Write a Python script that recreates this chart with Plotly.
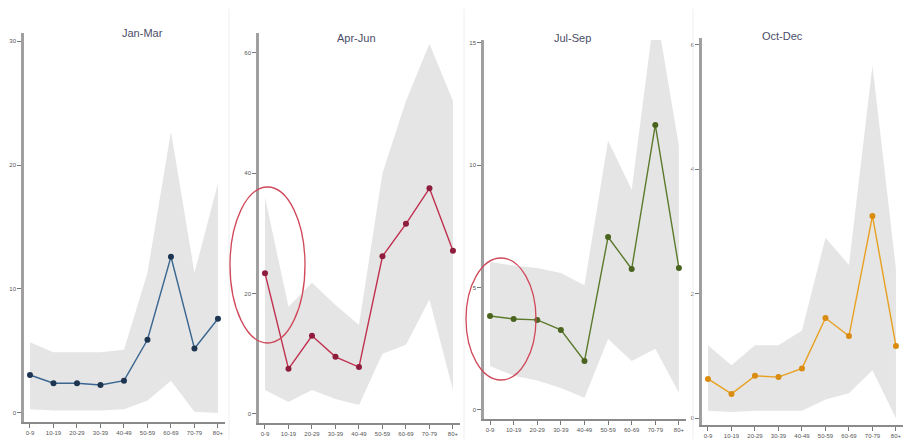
import plotly.graph_objects as go

age_groups = ["0-9", "10-19", "20-29", "30-39", "40-49", "50-59", "60-69", "70-79", "80+"]
quarters = ["Jan-Mar", "Apr-Jun", "Jul-Sep", "Oct-Dec"]

jan_mar = [3.06, 2.4, 2.4, 2.26, 2.6, 5.9, 12.6, 5.2, 7.6]
jan_mar_upper = [5.7, 4.9, 4.9, 4.9, 5.1, 11.3, 22.7, 11.3, 18.5]
jan_mar_lower = [0.3, 0.2, 0.2, 0.2, 0.3, 1.0, 2.6, 0.1, 0.0]

apr_jun = [23.4, 7.5, 13.0, 9.5, 7.8, 26.2, 31.6, 37.5, 27.1]
apr_jun_upper = [36.0, 17.8, 21.8, 18.1, 14.8, 40.0, 52.0, 61.5, 52.0]
apr_jun_lower = [4.0, 2.0, 4.0, 2.5, 1.5, 10.0, 11.5, 19.0, 4.0]

jul_sep = [3.84, 3.72, 3.68, 3.27, 2.0, 7.07, 5.76, 11.65, 5.8]
jul_sep_upper = [6.05, 5.9, 5.8, 5.6, 5.1, 11.0, 9.0, 16.5, 10.8]
jul_sep_lower = [1.8, 1.4, 1.2, 0.9, 0.5, 2.9, 2.0, 2.5, 0.7]

oct_dec = [0.63, 0.39, 0.68, 0.66, 0.80, 1.61, 1.32, 3.25, 1.16]
oct_dec_upper = [1.17, 0.85, 1.17, 1.17, 1.41, 2.9, 2.46, 5.67, 2.4]
oct_dec_lower = [0.12, 0.1, 0.12, 0.12, 0.12, 0.3, 0.4, 0.77, 0.0]

y_ticks = [[0, 10, 20, 30], [0, 20, 40, 60], [0, 5, 10, 15], [0, 2, 4, 6]]

series = [jan_mar, apr_jun, jul_sep, oct_dec]
uppers = [jan_mar_upper, apr_jun_upper, jul_sep_upper, oct_dec_upper]
lowers = [jan_mar_lower, apr_jun_lower, jul_sep_lower, oct_dec_lower]

line_colors = ["#3a6690", "#c0304f", "#5c7a2c", "#e8a020"]
marker_colors = ["#1d3550", "#8e1c3c", "#4a6420", "#d98c10"]

W, H = 912, 448
# pixel boxes: left, right, top, bottom
boxes = [(24, 225, 33, 422), (259, 460, 33, 423), (484, 686, 40, 419), (702, 903, 38, 425)]
y_ranges = [(-0.73, 30.65), (-1.5, 63.3), (-0.37, 15.12), (-0.11, 6.11)]
x_range = (-0.255, 8.3)
title_pos = [(120, 25), (356, 30), (572, 30), (805, 28)]

fig = go.Figure()
idx = list(range(len(age_groups)))

for k in range(4):
    xa = "x" if k == 0 else f"x{k+1}"
    ya = "y" if k == 0 else f"y{k+1}"
    fig.add_trace(go.Scatter(
        x=idx + idx[::-1], y=uppers[k] + lowers[k][::-1],
        fill="toself", fillcolor="#e5e5e5", line=dict(width=0),
        mode="lines", hoverinfo="skip", showlegend=False, xaxis=xa, yaxis=ya))
    fig.add_trace(go.Scatter(
        x=idx, y=series[k], mode="lines+markers",
        line=dict(color=line_colors[k], width=1.4),
        marker=dict(color=marker_colors[k], size=6),
        showlegend=False, xaxis=xa, yaxis=ya))

    l, r, t, b = boxes[k]
    axis_common = dict(showgrid=False, zeroline=False, ticks="outside", ticklen=4,
                       tickcolor="#777", tickfont=dict(size=6, color="#555", family="Liberation Sans Narrow, Arial Narrow, sans-serif"))
    xkey = "xaxis" if k == 0 else f"xaxis{k+1}"
    ykey = "yaxis" if k == 0 else f"yaxis{k+1}"
    fig.update_layout({
        xkey: dict(domain=[l / W, r / W], range=list(x_range), anchor=ya,
                   tickvals=idx, ticktext=age_groups, showline=True,
                   linecolor="#8a8a8a", linewidth=1.5, **axis_common),
        ykey: dict(domain=[1 - b / H, 1 - t / H], range=list(y_ranges[k]), anchor=xa,
                   tickvals=y_ticks[k], showline=True, linecolor="#a0a0a0",
                   linewidth=2.5, **axis_common),
    })
    tx, ty = title_pos[k]
    fig.add_annotation(text=quarters[k], x=tx / W, y=1 - ty / H, xref="paper", yref="paper",
                       showarrow=False, font=dict(size=11, color="#4a4d66",
                       family="Liberation Sans Narrow, Arial Narrow, sans-serif"))

# faint panel separators
for sx in [229, 464, 693]:
    fig.add_shape(type="line", x0=sx / W, x1=sx / W, y0=0.02, y1=0.98, xref="paper", yref="paper",
                  line=dict(color="#eeeeee", width=1))

# red highlight ellipses (Apr-Jun and Jul-Sep, youngest age region)
for (ex0, ex1, ey0, ey1) in [(230, 305, 187, 343), (466, 536, 258, 380)]:
    fig.add_shape(type="circle", xref="paper", yref="paper",
                  x0=ex0 / W, x1=ex1 / W, y0=1 - ey1 / H, y1=1 - ey0 / H,
                  line=dict(color="#d0485a", width=1.3))

fig.update_layout(width=W, height=H, margin=dict(l=0, r=0, t=0, b=0),
                  paper_bgcolor="white", plot_bgcolor="white")

fig.write_html("out.html", config={"displayModeBar": False},
               post_script="document.body.style.margin='0';document.body.style.padding='0';document.body.style.overflow='hidden';")
